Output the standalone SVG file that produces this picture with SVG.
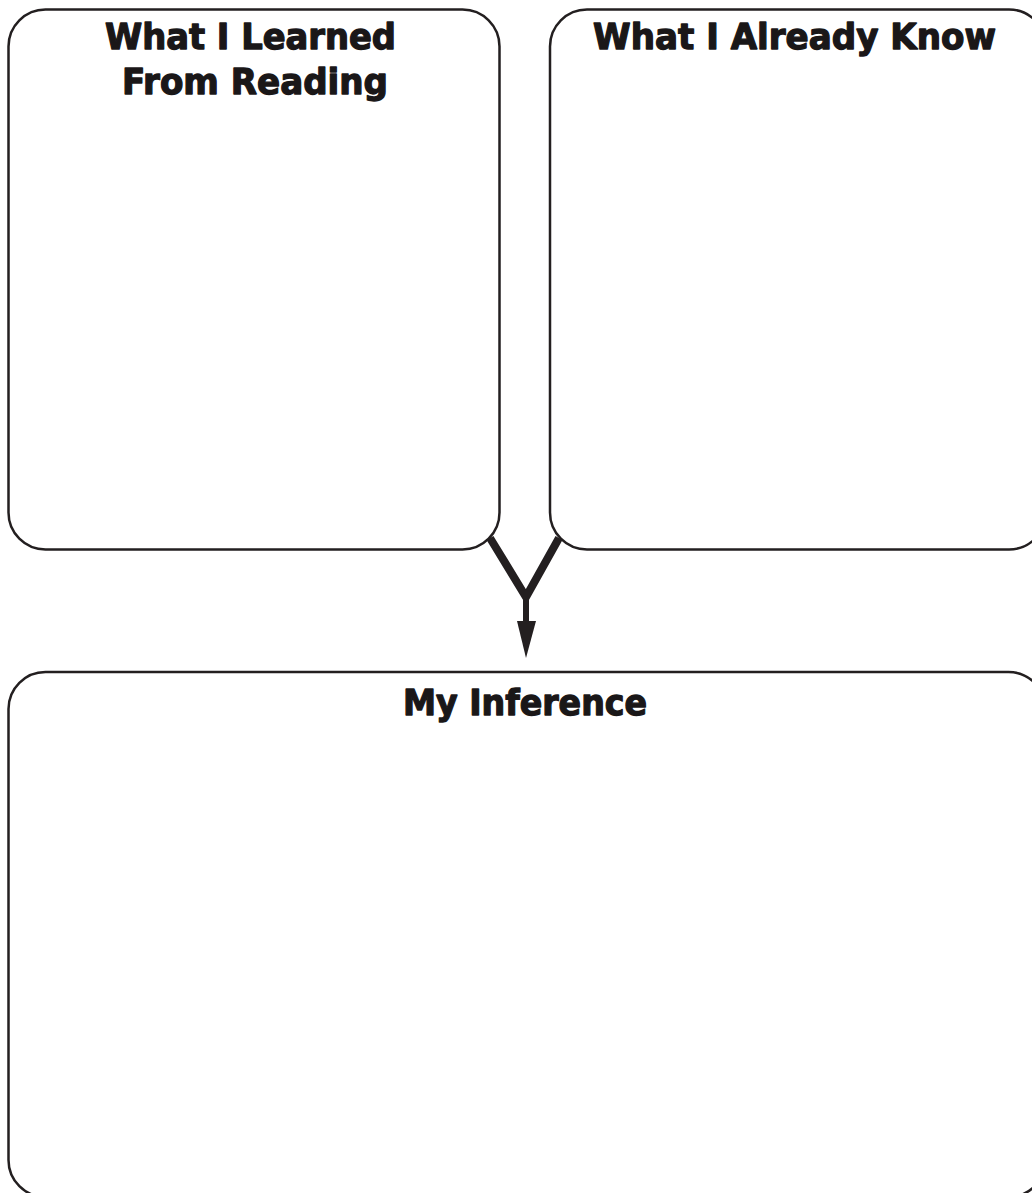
<svg xmlns="http://www.w3.org/2000/svg" width="1032" height="1193" viewBox="0 0 1032 1193">
<style>
.box{fill:#fff;stroke:#231f20;stroke-width:2.5}
.t{font-family:"DejaVu Sans","Liberation Sans",sans-serif;font-weight:bold;font-size:35px;fill:#1a1718;stroke:#1a1718;stroke-width:1.3;stroke-linejoin:round;text-anchor:middle}
.c{fill:none;stroke:#231f20;stroke-width:8;stroke-linejoin:miter}
</style>
<rect width="1032" height="1193" fill="#fff"/>
<g id="learned">
<rect class="box" x="8.5" y="9.5" width="491" height="540" rx="37" ry="37"/>
<text class="t" x="250.5" y="49" textLength="291" lengthAdjust="spacingAndGlyphs">What I Learned</text>
<text class="t" x="255" y="94" textLength="266" lengthAdjust="spacingAndGlyphs">From Reading</text>
</g>
<g id="know">
<rect class="box" x="550" y="9.5" width="496" height="540" rx="37" ry="37"/>
<text class="t" x="794.5" y="49" textLength="403" lengthAdjust="spacingAndGlyphs">What I Already Know</text>
</g>
<g id="inference">
<rect class="box" x="8.5" y="672" width="1037" height="525" rx="37" ry="37"/>
<text class="t" x="525" y="715" textLength="244" lengthAdjust="spacingAndGlyphs">My Inference</text>
</g>
<g id="connectors">
<polyline class="c" points="490,538 526,597 559,538"/>
<line x1="526" y1="595" x2="526" y2="626" stroke="#231f20" stroke-width="6"/>
<polygon points="517,621 536,621 526,658" fill="#231f20"/>
</g>
</svg>
